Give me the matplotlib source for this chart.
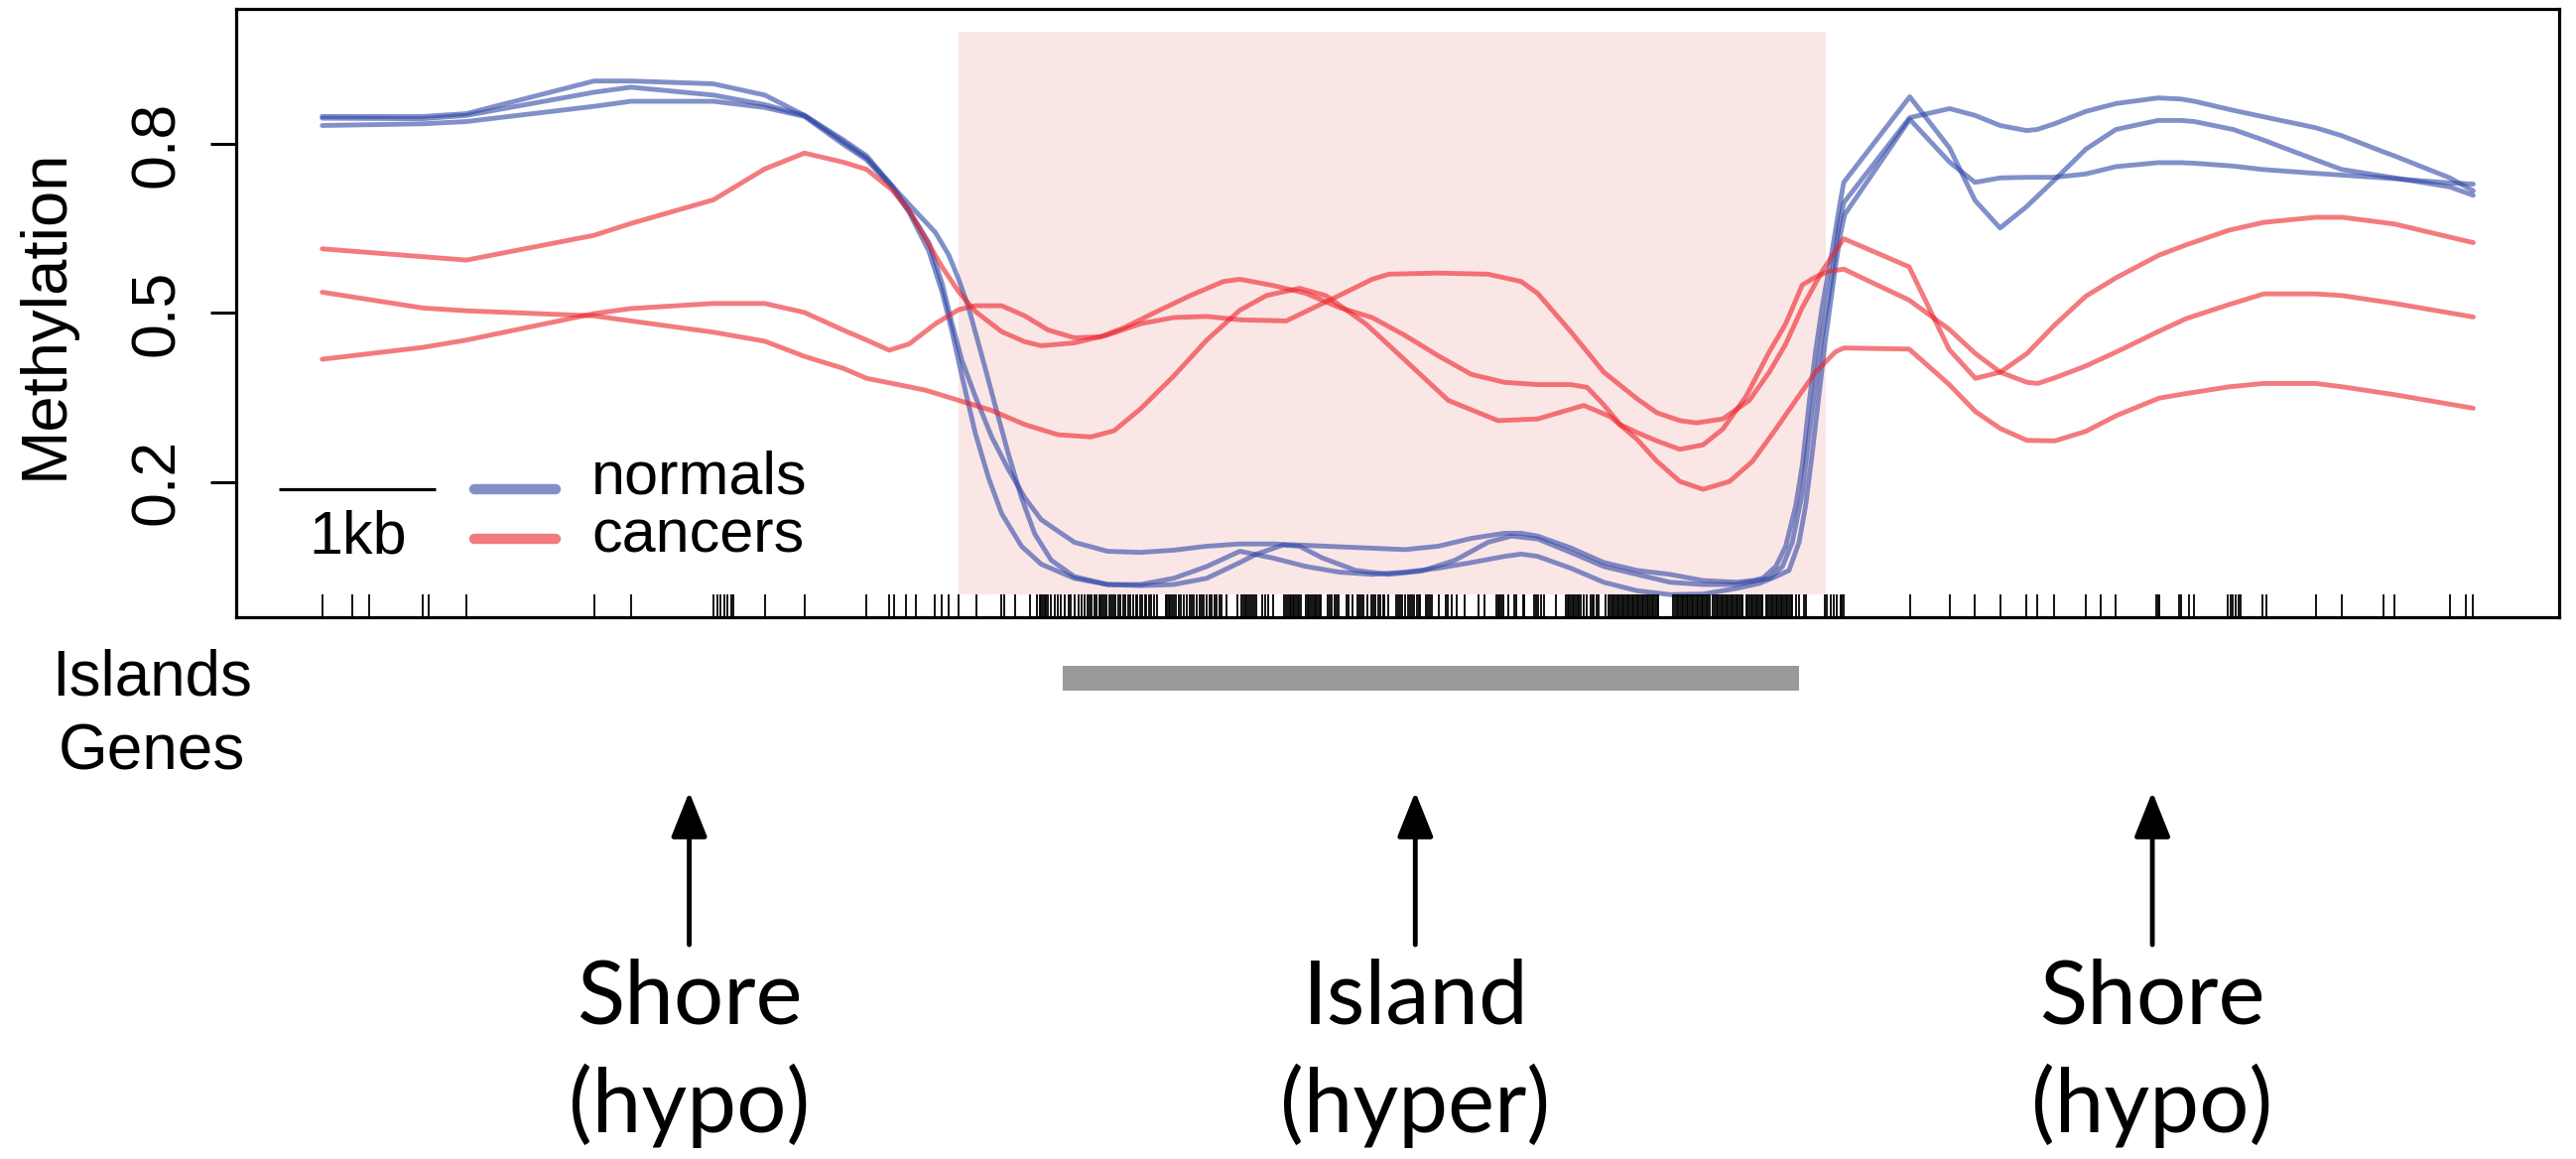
import matplotlib
matplotlib.use("Agg")
import matplotlib.pyplot as plt
from matplotlib.transforms import blended_transform_factory

plt.rcParams['font.family'] = ['Liberation Sans', 'DejaVu Sans']

# CpG positions (kb) shown as the rug
rug_kb = [
    0.000, 0.194, 0.298, 0.641, 0.680, 0.919, 1.733, 1.968, 2.494, 2.517, 2.540, 2.562,
    2.585, 2.608, 2.623, 2.822, 3.075,
    3.472, 3.615, 3.647, 3.720, 3.788, 3.906, 3.948, 3.995, 4.058, 4.170, 4.328, 4.347,
    4.417, 4.512, 4.560, 4.575, 4.585, 4.596, 4.607, 4.617, 4.628, 4.649, 4.670, 4.691,
    4.712, 4.737, 4.761, 4.775, 4.796, 4.822, 4.843, 4.860, 4.877, 4.891, 4.906, 4.923,
    4.940, 4.955, 4.965, 4.976, 4.986, 5.003, 5.018, 5.033, 5.045, 5.060, 5.075, 5.092,
    5.109, 5.123, 5.138, 5.155, 5.172, 5.187, 5.197, 5.214, 5.229, 5.244, 5.256, 5.271,
    5.286, 5.303, 5.320, 5.377, 5.387, 5.398, 5.408, 5.419, 5.429, 5.446, 5.461, 5.476,
    5.493, 5.514, 5.531, 5.545, 5.560, 5.577, 5.594, 5.609, 5.623, 5.640, 5.657, 5.672,
    5.687, 5.704, 5.720, 5.735, 5.767, 5.834,
    5.862, 5.872, 5.883, 5.894, 5.904, 5.915, 5.932, 5.946, 5.957, 5.995, 6.010, 6.031,
    6.062, 6.136, 6.147, 6.157, 6.168, 6.178, 6.189, 6.199, 6.210, 6.221, 6.231, 6.242,
    6.273, 6.284, 6.294, 6.305, 6.315, 6.326, 6.337, 6.347, 6.358, 6.368, 6.410, 6.421,
    6.438, 6.453, 6.467, 6.480, 6.531, 6.547, 6.569, 6.600, 6.611, 6.628, 6.642, 6.664,
    6.691, 6.702, 6.716, 6.733, 6.748, 6.763, 6.775, 6.796, 6.847, 6.860, 6.875, 6.885,
    6.906, 6.927, 6.938, 6.948, 6.965, 6.980, 6.991, 7.001, 7.037, 7.050, 7.064, 7.075,
    7.117, 7.164, 7.176, 7.202, 7.233, 7.286, 7.370, 7.412, 7.486, 7.497, 7.507, 7.518,
    7.529, 7.564, 7.598, 7.613, 7.655, 7.666, 7.729, 7.740, 7.750, 7.771, 7.792, 7.866,
    7.929, 7.940, 7.950, 7.961, 7.972, 7.982, 7.993, 8.003, 8.014, 8.024, 8.045, 8.062,
    8.088, 8.098, 8.109, 8.126, 8.140, 8.183, 8.204, 8.214, 8.225, 8.235, 8.246, 8.256,
    8.267, 8.277, 8.288, 8.299, 8.309, 8.320, 8.330, 8.341, 8.351, 8.362, 8.372,
    8.383, 8.393, 8.404, 8.415, 8.425, 8.436, 8.446, 8.457, 8.467, 8.478, 8.488, 8.499,
    8.510, 8.520, 8.615, 8.626, 8.636, 8.647, 8.657, 8.668, 8.678, 8.689, 8.699, 8.710,
    8.720, 8.731, 8.742, 8.752, 8.763, 8.773, 8.784, 8.794, 8.805, 8.815, 8.826, 8.836,
    8.847, 8.868, 8.879, 8.889, 8.900, 8.910, 8.921, 8.931, 8.942, 8.953, 8.963, 8.974,
    8.984, 8.995, 9.005, 9.016, 9.026, 9.037, 9.047, 9.058, 9.079, 9.090, 9.100, 9.111,
    9.121, 9.132, 9.142, 9.153, 9.163, 9.174, 9.185, 9.206, 9.216, 9.227, 9.237, 9.248,
    9.258, 9.269, 9.280, 9.290, 9.301, 9.311, 9.322, 9.332, 9.343, 9.353, 9.364, 9.374,
    9.400, 9.417, 9.448, 9.459, 9.579, 9.596, 9.617, 9.638, 9.659, 9.680, 9.691, 9.702,
    10.123, 10.377, 10.539, 10.699,
    10.868, 10.936, 11.045, 11.246, 11.343, 11.438, 11.695, 11.706, 11.716, 11.839, 11.853,
    11.902, 11.938, 12.153, 12.170, 12.185, 12.202, 12.218, 12.233, 12.370, 12.398, 12.712,
    12.877, 13.145, 13.214, 13.567, 13.668, 13.716,
]

# normals
normal1_x = [0.000, 0.641, 0.919, 1.733, 1.968, 2.494, 2.822, 3.075, 3.320, 3.472, 3.636, 3.742,
             3.868, 3.952, 4.016, 4.079, 4.164, 4.269, 4.374, 4.480, 4.585, 4.796, 5.007, 5.218,
             5.429, 5.640, 5.851, 6.062, 6.484, 6.906, 7.117, 7.328, 7.539, 7.645, 7.750, 7.961,
             8.172, 8.383, 8.594, 8.805, 9.016, 9.121, 9.185, 9.269, 9.332, 9.396, 9.438, 9.480,
             9.522, 9.564, 9.628, 9.670, 9.702, 10.123, 10.377, 10.539, 10.699, 10.868, 11.045,
             11.246, 11.438, 11.706, 11.853, 11.938, 12.185, 12.370, 12.712, 12.877, 13.145,
             13.214, 13.567, 13.716]
normal1_y = [0.849, 0.849, 0.854, 0.912, 0.912, 0.907, 0.887, 0.851, 0.808, 0.779, 0.725, 0.682,
             0.625, 0.553, 0.481, 0.416, 0.352, 0.280, 0.223, 0.172, 0.133, 0.093, 0.077, 0.075,
             0.079, 0.086, 0.090, 0.090, 0.085, 0.080, 0.086, 0.100, 0.109, 0.109, 0.104, 0.083,
             0.057, 0.043, 0.036, 0.025, 0.022, 0.025, 0.029, 0.050, 0.086, 0.158, 0.230, 0.337,
             0.431, 0.510, 0.610, 0.682, 0.732, 0.884, 0.793, 0.700, 0.651, 0.689, 0.736,
             0.791, 0.826, 0.842, 0.842, 0.840, 0.826, 0.808, 0.772, 0.755, 0.743,
             0.740, 0.724, 0.709]

normal2_x = [0.000, 0.641, 0.919, 1.733, 1.968, 2.494, 2.822, 3.075, 3.320, 3.472, 3.636, 3.742,
             3.910, 3.995, 4.058, 4.121, 4.206, 4.290, 4.374, 4.459, 4.543, 4.649, 4.796, 5.007,
             5.218, 5.429, 5.640, 5.851, 5.957, 6.126, 6.231, 6.379, 6.590, 6.801, 7.012, 7.223,
             7.434, 7.581, 7.750, 7.961, 8.172, 8.383, 8.594, 8.805, 9.016, 9.227, 9.311, 9.374,
             9.438, 9.480, 9.522, 9.564, 9.628, 9.670, 9.702, 10.123, 10.377, 10.539, 10.699,
             10.868, 10.936, 11.045, 11.246, 11.438, 11.706, 11.853, 11.938, 12.185, 12.370,
             12.712, 12.877, 13.145, 13.214, 13.567, 13.716]
normal2_y = [0.846, 0.845, 0.851, 0.892, 0.901, 0.887, 0.870, 0.851, 0.804, 0.775, 0.725, 0.693,
             0.643, 0.603, 0.560, 0.510, 0.424, 0.337, 0.251, 0.172, 0.108, 0.061, 0.032, 0.018,
             0.016, 0.018, 0.029, 0.057, 0.072, 0.088, 0.086, 0.065, 0.043, 0.036, 0.042, 0.061,
             0.093, 0.104, 0.099, 0.075, 0.050, 0.036, 0.022, 0.018, 0.018, 0.029, 0.050, 0.093,
             0.180, 0.280, 0.373, 0.459, 0.567, 0.653, 0.696, 0.847, 0.863, 0.851, 0.833,
             0.824, 0.826, 0.836, 0.858, 0.872, 0.882, 0.880, 0.876, 0.860, 0.849,
             0.829, 0.815, 0.786, 0.779, 0.740, 0.717]

normal3_x = [0.000, 0.641, 0.919, 1.733, 1.968, 2.494, 2.822, 3.075, 3.320, 3.472, 3.636, 3.742,
             3.868, 3.952, 4.016, 4.079, 4.164, 4.248, 4.332, 4.459, 4.585, 4.796, 5.007, 5.218,
             5.429, 5.640, 5.851, 6.062, 6.273, 6.484, 6.695, 6.906, 7.117, 7.328, 7.539, 7.645,
             7.750, 7.961, 8.172, 8.383, 8.594, 8.805, 9.016, 9.164, 9.269, 9.353, 9.417, 9.459,
             9.501, 9.543, 9.585, 9.649, 9.680, 9.708, 10.123, 10.377, 10.539, 10.699, 10.868,
             11.045, 11.246, 11.438, 11.706, 11.853, 11.938, 12.185, 12.370, 12.712, 12.877,
             13.145, 13.567, 13.716]
normal3_y = [0.833, 0.836, 0.840, 0.867, 0.876, 0.876, 0.865, 0.849, 0.800, 0.772, 0.722, 0.679,
             0.610, 0.538, 0.467, 0.388, 0.287, 0.208, 0.144, 0.086, 0.054, 0.029, 0.018, 0.018,
             0.029, 0.050, 0.077, 0.065, 0.050, 0.040, 0.036, 0.040, 0.047, 0.057, 0.068, 0.072,
             0.068, 0.047, 0.022, 0.007, 0.000, 0.001, 0.011, 0.020, 0.032, 0.043, 0.093, 0.158,
             0.251, 0.352, 0.452, 0.582, 0.639, 0.675, 0.844, 0.768, 0.732, 0.740, 0.741,
             0.741, 0.747, 0.760, 0.767, 0.767, 0.766, 0.761, 0.755, 0.748, 0.745,
             0.740, 0.731, 0.729]

# cancers
cancer1_x = [0.000, 0.919, 1.733, 1.968, 2.494, 2.822, 3.075, 3.320, 3.472, 3.636, 3.742, 3.847,
             3.952, 4.058, 4.164, 4.332, 4.480, 4.585, 4.796, 5.007, 5.218, 5.429, 5.640, 5.851,
             6.147, 6.273, 6.484, 6.695, 6.801, 7.117, 7.434, 7.645, 7.750, 7.961, 8.172, 8.383,
             8.510, 8.657, 8.763, 8.931, 9.100, 9.227, 9.332, 9.438, 9.564, 9.649, 9.702, 10.119,
             10.375, 10.542, 10.700, 10.870, 11.048, 11.246, 11.441, 11.714, 11.885, 12.158,
             12.380, 12.711, 12.882, 13.216, 13.716]
cancer1_y = [0.614, 0.594, 0.638, 0.659, 0.701, 0.756, 0.784, 0.768, 0.755, 0.718, 0.682, 0.632,
             0.582, 0.538, 0.503, 0.467, 0.449, 0.442, 0.447, 0.461, 0.481, 0.492, 0.494, 0.488,
             0.486, 0.503, 0.531, 0.560, 0.569, 0.571, 0.569, 0.556, 0.535, 0.467, 0.395, 0.348,
             0.323, 0.309, 0.305, 0.312, 0.345, 0.395, 0.445, 0.510, 0.574, 0.610, 0.632, 0.582,
             0.435, 0.384, 0.395, 0.428, 0.479, 0.530, 0.563, 0.603, 0.621, 0.647,
             0.661, 0.670, 0.670, 0.658, 0.625]

cancer2_x = [0.000, 0.641, 0.919, 1.733, 1.968, 2.494, 2.822, 3.075, 3.320, 3.472, 3.636, 3.847,
             4.058, 4.269, 4.480, 4.691, 4.902, 5.049, 5.218, 5.429, 5.640, 5.851, 6.020, 6.231,
             6.400, 6.653, 6.906, 7.180, 7.497, 7.750, 8.045, 8.214, 8.383, 8.510, 8.657, 8.805,
             8.974, 9.121, 9.269, 9.396, 9.522, 9.649, 9.702, 10.119, 10.375, 10.542, 10.700,
             10.870, 11.048, 11.246, 11.441, 11.714, 11.885, 12.158, 12.380, 12.711, 12.882,
             13.216, 13.716]
cancer2_y = [0.537, 0.509, 0.504, 0.495, 0.486, 0.466, 0.450, 0.423, 0.402, 0.384, 0.375, 0.363,
             0.345, 0.327, 0.302, 0.284, 0.280, 0.291, 0.330, 0.388, 0.452, 0.505, 0.531, 0.544,
             0.531, 0.481, 0.416, 0.345, 0.309, 0.312, 0.336, 0.316, 0.276, 0.237, 0.201, 0.187,
             0.201, 0.237, 0.294, 0.345, 0.395, 0.431, 0.438, 0.436, 0.373, 0.325, 0.295,
             0.274, 0.273, 0.290, 0.318, 0.349, 0.357, 0.369, 0.375, 0.375, 0.369,
             0.355, 0.331]

cancer3_x = [0.000, 0.641, 0.919, 1.733, 1.968, 2.494, 2.822, 3.075, 3.320, 3.472, 3.615, 3.742,
             3.910, 4.058, 4.164, 4.332, 4.480, 4.628, 4.796, 4.965, 5.113, 5.324, 5.535, 5.746,
             5.851, 6.062, 6.273, 6.484, 6.695, 6.906, 7.117, 7.328, 7.539, 7.750, 7.961, 8.066,
             8.172, 8.277, 8.383, 8.510, 8.657, 8.805, 8.931, 9.079, 9.227, 9.332, 9.438, 9.522,
             9.606, 9.702, 10.119, 10.375, 10.542, 10.700, 10.870, 10.939, 11.048, 11.246,
             11.441, 11.714, 11.885, 12.158, 12.380, 12.711, 12.882, 13.216, 13.716]
cancer3_y = [0.418, 0.439, 0.452, 0.499, 0.508, 0.517, 0.517, 0.501, 0.470, 0.452, 0.434, 0.445,
             0.481, 0.506, 0.513, 0.513, 0.495, 0.470, 0.456, 0.458, 0.474, 0.503, 0.531, 0.556,
             0.560, 0.549, 0.535, 0.510, 0.492, 0.460, 0.424, 0.391, 0.377, 0.373, 0.373, 0.368,
             0.337, 0.302, 0.288, 0.273, 0.258, 0.266, 0.294, 0.352, 0.431, 0.481, 0.550, 0.564,
             0.574, 0.578, 0.523, 0.471, 0.428, 0.395, 0.377, 0.375, 0.385, 0.406,
             0.431, 0.468, 0.490, 0.515, 0.534, 0.534, 0.531, 0.517, 0.493]

normals = [(normal1_x, normal1_y), (normal2_x, normal2_y), (normal3_x, normal3_y)]
cancers = [(cancer1_x, cancer1_y), (cancer2_x, cancer2_y), (cancer3_x, cancer3_y)]

# shaded region and CpG island (kb)
region_start, region_end = 4.058, 9.590
island_start = [4.725]
island_end = [9.415]

# annotated regions below the plot
region_labels = [("Shore", "(hypo)"), ("Island", "(hyper)"), ("Shore", "(hypo)")]
region_pos = [2.34, 6.97, 11.67]

yticks = [0.2, 0.5, 0.8]

blue = '#2E47A5'
red = '#EC2228'
line_alpha = 0.6

fig = plt.figure(figsize=(25.96, 11.68), dpi=100)
ax = fig.add_axes([0.0917, 0.4675, 0.9018, 0.5248])

pad = 0.04 * (max(rug_kb) - min(rug_kb))
xlim = (min(rug_kb) - pad, max(rug_kb) + pad)
ax.set_xlim(xlim)
ax.set_ylim(-0.04, 1.04)

ax.fill_between([region_start, region_end], 0, 1, color='#FBE6E6', lw=0, zorder=0)

for x, y in normals:
    ax.plot(x, y, color=blue, alpha=line_alpha, lw=3.5, solid_joinstyle='round',
            solid_capstyle='round', zorder=2)
for x, y in cancers:
    ax.plot(x, y, color=red, alpha=line_alpha, lw=3.5, solid_joinstyle='round',
            solid_capstyle='round', zorder=2)

ax.vlines(rug_kb, 0, 0.037, transform=ax.get_xaxis_transform(), color='black', lw=1.3)

# scale bar + legend
bar_x0 = -0.275
ax.plot([bar_x0, bar_x0 + 1.0], [0.188, 0.188], color='black', lw=2.3, solid_capstyle='butt')
ax.text(bar_x0 + 0.5, 0.073, '1kb', ha='center', va='baseline', fontsize=44)
ax.plot([0.972, 1.490], [0.188, 0.188], color=blue, alpha=line_alpha, lw=7.5, solid_capstyle='round')
ax.plot([0.972, 1.490], [0.100, 0.100], color=red, alpha=line_alpha, lw=7.5, solid_capstyle='round')
ax.text(1.718, 0.1795, 'normals', ha='left', va='baseline', fontsize=44)
ax.text(1.718, 0.0757, 'cancers', ha='left', va='baseline', fontsize=44)

ax.set_xticks([])
ax.set_yticks(yticks)
ax.set_yticklabels([f'{t:.1f}' for t in yticks])
ax.tick_params(axis='y', length=18.7, width=2.2, pad=17, labelsize=45)
for lab in ax.get_yticklabels():
    lab.set_rotation(90)
    lab.set_va('center')
for sp in ax.spines.values():
    sp.set_linewidth(2.3)
fig.text(46 / 2596, 1 - 316 / 1168, 'Methylation', rotation=90, ha='center', va='center',
         fontsize=47)

# islands / genes track
ax2 = fig.add_axes([0.0917, 1 - 796 / 1168, 0.9018, 150 / 1168])
ax2.set_xlim(xlim)
ax2.set_ylim(-0.5, 1.5)
ax2.axis('off')
ax2.barh([1] * len(island_start), [e - s for s, e in zip(island_start, island_end)],
         left=island_start, height=0.33, color='#999999')
ytr = ax2.get_yaxis_transform()
ax2.text(-0.0363, 1, 'Islands', transform=ytr, ha='center', va='center', fontsize=46)
ax2.text(-0.0363, 0, 'Genes', transform=ytr, ha='center', va='center', fontsize=46)

# arrows and region labels
blend = blended_transform_factory(ax.transData, fig.transFigure)
for (top, bottom), xpos in zip(region_labels, region_pos):
    ax.annotate('', xy=(xpos, 0.3168), xytext=(xpos, 0.1849),
                xycoords=blend, textcoords=blend, annotation_clip=False,
                arrowprops=dict(arrowstyle='-|>,head_length=0.7,head_width=0.28',
                                mutation_scale=40, lw=3.5, color='black',
                                shrinkA=0, shrinkB=0))
    ax.text(xpos, 1 - 1031 / 1168, top, transform=blend, ha='center', va='baseline',
            fontsize=64, family=['Lato', 'DejaVu Sans'])
    ax.text(xpos, 1 - 1141 / 1168, bottom, transform=blend, ha='center', va='baseline',
            fontsize=64, family=['Lato', 'DejaVu Sans'])

fig.savefig('out.png', dpi=100)
